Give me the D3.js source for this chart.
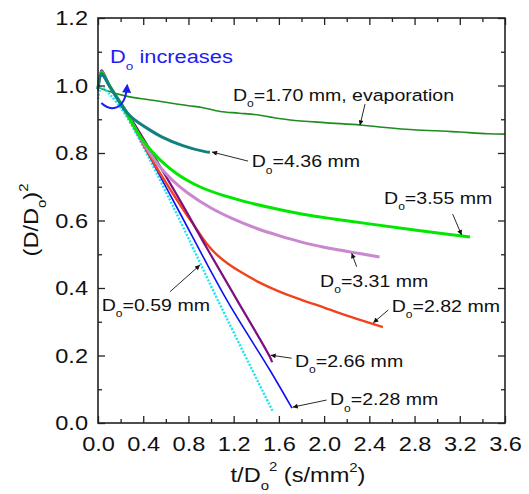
<!DOCTYPE html>
<html>
<head>
<meta charset="utf-8">
<script src="https://cdn.jsdelivr.net/npm/d3@7"></script>
<style>
  body { margin: 0; background: #fff; }
  text { font-family: "Liberation Sans", Arial, sans-serif; fill: #111; }
</style>
</head>
<body>
<script>
// values, pairs of [t/Do^2, (D/Do)^2]
const evap170 = [[0,0.995],[0.06,0.987],[0.27,0.967],[0.45,0.958],[0.64,0.948],[0.8,0.94],[0.92,0.935],[1.08,0.923],[1.25,0.918],[1.43,0.912],[1.55,0.905],[1.7,0.898],[2.0,0.89],[2.32,0.883],[2.49,0.877],[2.82,0.868],[3.0,0.866],[3.2,0.862],[3.45,0.857],[3.6,0.856]];
const cyan059 = [[0,0.96],[0.03,0.995],[0.1,0.975],[0.239,0.915],[0.637,0.66],[1.06,0.364],[1.548,0.033]];
const blue228 = [[0,0.985],[0.033,1.03],[0.1,0.995],[0.239,0.922],[0.664,0.66],[1.14,0.364],[1.52,0.157],[1.716,0.044]];
const red282 = [[0,0.99],[0.033,1.04],[0.1,1.0],[0.239,0.927],[0.46,0.79],[0.7,0.66],[0.85,0.585],[0.96,0.532],[1.05,0.499],[1.15,0.472],[1.26,0.448],[1.43,0.416],[1.6,0.39],[1.8,0.365],[2.0,0.342],[2.23,0.315],[2.52,0.284]];
const purple266 = [[0,1.0],[0.033,1.045],[0.1,1.0],[0.239,0.93],[0.725,0.66],[0.96,0.52],[1.23,0.364],[1.52,0.196],[1.54,0.18]];
const pink331 = [[0,0.99],[0.033,1.04],[0.1,1.0],[0.239,0.927],[0.35,0.86],[0.45,0.805],[0.55,0.758],[0.65,0.722],[0.8,0.68],[1.0,0.637],[1.2,0.604],[1.4,0.577],[1.6,0.555],[1.8,0.536],[2.0,0.521],[2.23,0.507],[2.49,0.492]];
const green355 = [[0,0.99],[0.033,1.04],[0.1,1.0],[0.239,0.927],[0.3,0.89],[0.4,0.836],[0.5,0.796],[0.6,0.764],[0.7,0.738],[0.8,0.717],[0.9,0.7],[1.1,0.675],[1.3,0.656],[1.5,0.64],[1.8,0.619],[2.1,0.604],[2.4,0.59],[2.8,0.572],[3.29,0.551]];
const teal436 = [[0,0.99],[0.033,1.035],[0.1,1.0],[0.239,0.927],[0.3,0.905],[0.45,0.87],[0.563,0.848],[0.75,0.822],[0.946,0.804],[0.99,0.802]];

const xTicks = [0,0.4,0.8,1.2,1.6,2.0,2.4,2.8,3.2,3.6];
const xTickLabels = ["0.0","0.4","0.8","1.2","1.6","2.0","2.4","2.8","3.2","3.6"];
const yTicks = [0,0.2,0.4,0.6,0.8,1.0,1.2];
const yTickLabels = ["0.0","0.2","0.4","0.6","0.8","1.0","1.2"];

// label text after "Do", with where it sits and where its arrow goes (data units)
const labelTexts = ["=1.70 mm, evaporation","=4.36 mm","=3.55 mm","=3.31 mm","=2.82 mm","=2.66 mm","=2.28 mm","=0.59 mm"];
const labelAt = [[1.194,0.955],[1.36,0.758],[2.53,0.649],[1.964,0.404],[2.598,0.33],[1.742,0.167],[2.052,0.053],[0.033,0.332]];
const arrowFrom = [[2.362,0.945],[1.327,0.776],[3.137,0.619],[2.288,0.463],[2.568,0.335],[1.713,0.192],[2.022,0.068],[0.637,0.389]];
const arrowTo = [[2.317,0.882],[1.008,0.803],[3.216,0.557],[2.244,0.503],[2.435,0.297],[1.527,0.201],[1.722,0.047],[0.902,0.468]];

const W = 529, H = 494;
const STRETCH = 1.15;

const svg = d3.select("body").append("svg").attr("width", W).attr("height", H);

const x = d3.scaleLinear().domain([0, 3.6]).range([98, 505]);
const y = d3.scaleLinear().domain([0, 1.2]).range([423, 18]);

const defs = svg.append("defs");
defs.append("marker").attr("id", "ah")
  .attr("viewBox", "0 0 10 10").attr("refX", 10).attr("refY", 5)
  .attr("markerWidth", 8).attr("markerHeight", 5).attr("markerUnits", "userSpaceOnUse")
  .attr("orient", "auto")
  .append("path").attr("d", "M0,0L10,5L0,10z").attr("fill", "#111");
defs.append("marker").attr("id", "ahBlue")
  .attr("viewBox", "0 0 10 10").attr("refX", 8).attr("refY", 5)
  .attr("markerWidth", 10).attr("markerHeight", 9).attr("markerUnits", "userSpaceOnUse")
  .attr("orient", "auto")
  .append("path").attr("d", "M0,0L10,5L0,10z").attr("fill", "#1d1df0");

// curves
const line = d3.line().x(d => x(d[0])).y(d => y(d[1])).curve(d3.curveCatmullRom.alpha(0.5));

const curves = [
  { pts: evap170, color: "#1f8c1f", w: 1.6 },
  { pts: cyan059, color: "#19e6f5", w: 2.4, dash: "2,1.6" },
  { pts: blue228, color: "#1010f5", w: 1.6 },
  { pts: red282, color: "#f0431d", w: 2.4 },
  { pts: purple266, color: "#7d0f80", w: 2.2 },
  { pts: pink331, color: "#c987cf", w: 3 },
  { pts: green355, color: "#00e800", w: 3 },
  { pts: teal436, color: "#13807f", w: 3 }
];

svg.append("g").selectAll("path")
  .data(curves)
  .enter()
  .append("path")
  .attr("d", d => line(d.pts))
  .attr("fill", "none")
  .attr("stroke", d => d.color)
  .attr("stroke-width", d => d.w)
  .attr("stroke-dasharray", d => d.dash || null)
  .attr("stroke-linejoin", "round");

// axes, ticks pointing inside on all four sides
const minorX = d3.range(0.2, 3.6, 0.4);
const minorY = d3.range(0.1, 1.2, 0.2);

function addAxis(axisFn, scale, pos, ticks, labels, size) {
  const a = axisFn(scale).tickValues(ticks).tickSize(-size)
    .tickFormat(labels ? ((d, i) => labels[i]) : "");
  const g = svg.append("g").attr("transform", pos).call(a);
  g.select(".domain").remove();
  g.selectAll("line").attr("stroke", "#222").attr("stroke-width", 1.3);
  return g;
}

const gx = addAxis(d3.axisBottom, x, "translate(0,423)", xTicks, xTickLabels, 7);
addAxis(d3.axisBottom, x, "translate(0,423)", minorX, null, 4);
addAxis(d3.axisTop, x, "translate(0,18)", xTicks, null, 7);
addAxis(d3.axisTop, x, "translate(0,18)", minorX, null, 4);
const gy = addAxis(d3.axisLeft, y, "translate(98,0)", yTicks, yTickLabels, 7);
addAxis(d3.axisLeft, y, "translate(98,0)", minorY, null, 4);
addAxis(d3.axisRight, y, "translate(505,0)", yTicks, null, 7);
addAxis(d3.axisRight, y, "translate(505,0)", minorY, null, 4);

gx.selectAll("text")
  .attr("y", 13).attr("dy", "0.71em")
  .attr("font-size", 20.5).attr("fill", "#111")
  .attr("font-family", "Liberation Sans, Arial, sans-serif")
  .attr("transform", `scale(${STRETCH},1)`);
gy.selectAll("text")
  .attr("x", -8.7).attr("dy", "0.34em")
  .attr("font-size", 20.5).attr("fill", "#111")
  .attr("font-family", "Liberation Sans, Arial, sans-serif")
  .attr("transform", `scale(${STRETCH},1)`);

svg.append("rect")
  .attr("x", 98).attr("y", 18).attr("width", 505 - 98).attr("height", 423 - 18)
  .attr("fill", "none").attr("stroke", "#222").attr("stroke-width", 1.6);

// axis titles
const xt = svg.append("g").attr("transform", `translate(298,482) scale(${STRETCH},1)`)
  .append("text").attr("text-anchor", "middle").attr("font-size", 20.5);
xt.append("tspan").text("t/D");
xt.append("tspan").attr("font-size", 13).attr("dy", 8).text("o");
xt.append("tspan").attr("font-size", 13).attr("dy", -19).text("2");
xt.append("tspan").attr("dy", 11).text(" (s/mm");
xt.append("tspan").attr("font-size", 13).attr("dy", -10).text("2");
xt.append("tspan").attr("dy", 10).text(")");

const yt = svg.append("g").attr("transform", `translate(38,220) rotate(-90) scale(${STRETCH},1)`)
  .append("text").attr("text-anchor", "middle").attr("font-size", 20.5);
yt.append("tspan").text("(D/D");
yt.append("tspan").attr("font-size", 13).attr("dy", 8).text("o");
yt.append("tspan").attr("dy", -8).text(")");
yt.append("tspan").attr("font-size", 13).attr("dy", -10).text("2");

// annotation labels
function doLabel(px, py, rest, size, color) {
  const t = svg.append("g").attr("transform", `translate(${px},${py}) scale(${STRETCH},1)`)
    .append("text").attr("font-size", size).style("fill", color);
  t.append("tspan").text("D");
  t.append("tspan").attr("font-size", size * 0.62).attr("dy", size * 0.38).text("o");
  t.append("tspan").attr("dy", -size * 0.38).text(rest);
}

labelTexts.forEach((s, i) => {
  doLabel(x(labelAt[i][0]), y(labelAt[i][1]), s, 17, "#111");
  svg.append("line")
    .attr("x1", x(arrowFrom[i][0])).attr("y1", y(arrowFrom[i][1]))
    .attr("x2", x(arrowTo[i][0])).attr("y2", y(arrowTo[i][1]))
    .attr("stroke", "#111").attr("stroke-width", 0.9)
    .attr("marker-end", "url(#ah)");
});

doLabel(x(0.106), y(1.067), " increases", 19, "#1d1df0");

// curved blue arrow, U shape opening upward
const p = d3.path();
p.moveTo(x(0.03), y(0.948));
p.bezierCurveTo(x(0.1), y(0.925), x(0.24), y(0.92), x(0.258), y(1.0));
svg.append("path").attr("d", p.toString())
  .attr("fill", "none").attr("stroke", "#1d1df0").attr("stroke-width", 2)
  .attr("marker-end", "url(#ahBlue)");
</script>
</body>
</html>
